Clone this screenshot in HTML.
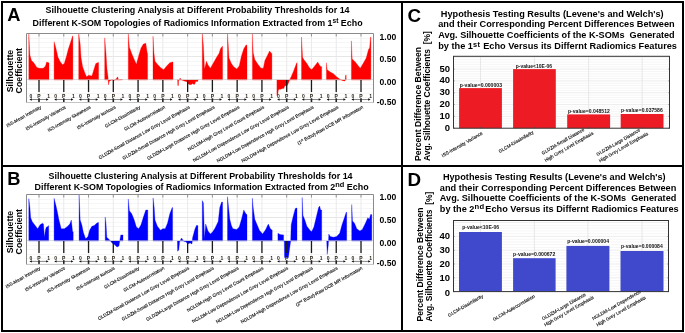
<!DOCTYPE html>
<html><head><meta charset="utf-8"><title>Silhouette Clustering Analysis</title>
<style>
html,body{margin:0;padding:0;background:#fff;width:685px;height:333px;overflow:hidden;}
svg{display:block;will-change:transform;font-family:"Liberation Sans", sans-serif;}
</style></head><body>
<svg width="685" height="333" viewBox="0 0 685 333" font-family='"Liberation Sans", sans-serif'>
<rect x="0" y="0" width="685" height="333" fill="#fff"/>
<text x="7.30" y="20.90" font-size="18.3" font-weight="bold" text-anchor="start" fill="#000">A</text>
<text x="197.60" y="13.40" font-size="8.9" font-weight="bold" text-anchor="middle" fill="#000" textLength="304.00" lengthAdjust="spacingAndGlyphs">Silhouette Clustering Analysis at Different Probability Thresholds for 14</text>
<text x="197.60" y="26.00" font-size="8.9" font-weight="bold" text-anchor="middle" fill="#000" textLength="330.0" lengthAdjust="spacingAndGlyphs">Different K-SOM Topologies of Radiomics Information Extracted from 1<tspan font-size="6.6" dy="-2.6">st</tspan><tspan dy="2.6"> Echo</tspan></text>
<text x="13.20" y="71.00" font-size="8.8" font-weight="bold" text-anchor="middle" fill="#000" transform="rotate(-90 13.20 71.00)">Silhouette</text>
<text x="21.80" y="70.70" font-size="8.8" font-weight="bold" text-anchor="middle" fill="#000" transform="rotate(-90 21.80 70.70)">Coefficient</text>
<rect x="26.5" y="33.5" width="347.0" height="69.0" fill="#fff"/>
<line x1="26.5" y1="97.50" x2="373.5" y2="97.50" stroke="#f6f6f6" stroke-width="1"/>
<line x1="26.5" y1="93.50" x2="373.5" y2="93.50" stroke="#f6f6f6" stroke-width="1"/>
<line x1="26.5" y1="88.50" x2="373.5" y2="88.50" stroke="#f6f6f6" stroke-width="1"/>
<line x1="26.5" y1="84.50" x2="373.5" y2="84.50" stroke="#f6f6f6" stroke-width="1"/>
<line x1="26.5" y1="74.50" x2="373.5" y2="74.50" stroke="#f6f6f6" stroke-width="1"/>
<line x1="26.5" y1="70.50" x2="373.5" y2="70.50" stroke="#f6f6f6" stroke-width="1"/>
<line x1="26.5" y1="65.50" x2="373.5" y2="65.50" stroke="#f6f6f6" stroke-width="1"/>
<line x1="26.5" y1="61.50" x2="373.5" y2="61.50" stroke="#f6f6f6" stroke-width="1"/>
<line x1="26.5" y1="51.50" x2="373.5" y2="51.50" stroke="#f6f6f6" stroke-width="1"/>
<line x1="26.5" y1="47.50" x2="373.5" y2="47.50" stroke="#f6f6f6" stroke-width="1"/>
<line x1="26.5" y1="42.50" x2="373.5" y2="42.50" stroke="#f6f6f6" stroke-width="1"/>
<line x1="26.5" y1="38.50" x2="373.5" y2="38.50" stroke="#f6f6f6" stroke-width="1"/>
<line x1="26.5" y1="56.50" x2="373.5" y2="56.50" stroke="#e6e6e6" stroke-width="1"/>
<line x1="39.00" y1="33.5" x2="39.00" y2="102.5" stroke="#e8e8e8" stroke-width="0.9"/>
<line x1="39.00" y1="33.5" x2="39.00" y2="36.5" stroke="#888" stroke-width="0.9"/>
<line x1="63.77" y1="33.5" x2="63.77" y2="102.5" stroke="#e8e8e8" stroke-width="0.9"/>
<line x1="63.77" y1="33.5" x2="63.77" y2="36.5" stroke="#888" stroke-width="0.9"/>
<line x1="88.54" y1="33.5" x2="88.54" y2="102.5" stroke="#e8e8e8" stroke-width="0.9"/>
<line x1="88.54" y1="33.5" x2="88.54" y2="36.5" stroke="#888" stroke-width="0.9"/>
<line x1="113.31" y1="33.5" x2="113.31" y2="102.5" stroke="#e8e8e8" stroke-width="0.9"/>
<line x1="113.31" y1="33.5" x2="113.31" y2="36.5" stroke="#888" stroke-width="0.9"/>
<line x1="138.08" y1="33.5" x2="138.08" y2="102.5" stroke="#e8e8e8" stroke-width="0.9"/>
<line x1="138.08" y1="33.5" x2="138.08" y2="36.5" stroke="#888" stroke-width="0.9"/>
<line x1="162.85" y1="33.5" x2="162.85" y2="102.5" stroke="#e8e8e8" stroke-width="0.9"/>
<line x1="162.85" y1="33.5" x2="162.85" y2="36.5" stroke="#888" stroke-width="0.9"/>
<line x1="187.62" y1="33.5" x2="187.62" y2="102.5" stroke="#e8e8e8" stroke-width="0.9"/>
<line x1="187.62" y1="33.5" x2="187.62" y2="36.5" stroke="#888" stroke-width="0.9"/>
<line x1="212.39" y1="33.5" x2="212.39" y2="102.5" stroke="#e8e8e8" stroke-width="0.9"/>
<line x1="212.39" y1="33.5" x2="212.39" y2="36.5" stroke="#888" stroke-width="0.9"/>
<line x1="237.16" y1="33.5" x2="237.16" y2="102.5" stroke="#e8e8e8" stroke-width="0.9"/>
<line x1="237.16" y1="33.5" x2="237.16" y2="36.5" stroke="#888" stroke-width="0.9"/>
<line x1="261.93" y1="33.5" x2="261.93" y2="102.5" stroke="#e8e8e8" stroke-width="0.9"/>
<line x1="261.93" y1="33.5" x2="261.93" y2="36.5" stroke="#888" stroke-width="0.9"/>
<line x1="286.70" y1="33.5" x2="286.70" y2="102.5" stroke="#e8e8e8" stroke-width="0.9"/>
<line x1="286.70" y1="33.5" x2="286.70" y2="36.5" stroke="#888" stroke-width="0.9"/>
<line x1="311.47" y1="33.5" x2="311.47" y2="102.5" stroke="#e8e8e8" stroke-width="0.9"/>
<line x1="311.47" y1="33.5" x2="311.47" y2="36.5" stroke="#888" stroke-width="0.9"/>
<line x1="336.24" y1="33.5" x2="336.24" y2="102.5" stroke="#e8e8e8" stroke-width="0.9"/>
<line x1="336.24" y1="33.5" x2="336.24" y2="36.5" stroke="#888" stroke-width="0.9"/>
<line x1="361.01" y1="33.5" x2="361.01" y2="102.5" stroke="#e8e8e8" stroke-width="0.9"/>
<line x1="361.01" y1="33.5" x2="361.01" y2="36.5" stroke="#888" stroke-width="0.9"/>
<path d="M28.80,80.00 L28.80,33.90 L29.90,55.00 L31.50,60.50 L33.80,62.80 L36.90,67.50 L39.30,68.30 L43.20,68.30 L45.50,66.00 L46.60,62.00 L48.60,62.80 L49.00,62.80 L49.00,80.00 Z" fill="#ff0000" stroke="#ff0000" stroke-width="0.3"/>
<path d="M54.10,80.00 L54.10,41.70 L55.70,47.20 L58.00,57.30 L60.40,62.00 L62.70,64.70 L64.30,63.60 L66.60,55.80 L68.20,49.50 L70.50,42.50 L72.60,35.90 L72.90,35.90 L72.90,80.00 Z" fill="#ff0000" stroke="#ff0000" stroke-width="0.3"/>
<path d="M78.70,80.00 L78.70,33.40 L80.20,44.00 L81.00,57.30 L82.60,66.70 L84.90,72.90 L86.50,76.80 L88.80,75.20 L91.90,76.00 L94.30,68.20 L95.80,63.50 L98.20,62.50 L98.60,62.50 L98.60,80.00 Z" fill="#ff0000" stroke="#ff0000" stroke-width="0.3"/>
<path d="M104.70,80.00 L104.70,37.80 L106.00,53.40 L107.00,69.00 L108.00,76.80 L108.50,85.00 L109.50,80.70 L110.70,80.50 L112.00,79.50 L114.00,80.50 L116.00,79.00 L117.70,76.80 L118.50,80.00 L120.00,79.50 L122.40,79.50 L122.40,80.00 Z" fill="#ff0000" stroke="#ff0000" stroke-width="0.3"/>
<path d="M128.30,80.00 L128.30,33.40 L129.40,47.20 L131.70,53.40 L134.00,58.90 L136.40,64.30 L138.70,55.70 L141.00,48.00 L143.40,44.00 L145.80,43.30 L147.30,53.40 L147.60,53.40 L147.60,80.00 Z" fill="#ff0000" stroke="#ff0000" stroke-width="0.3"/>
<path d="M153.00,80.00 L153.00,36.20 L153.90,52.60 L155.00,61.20 L157.40,64.30 L160.50,67.40 L163.60,69.80 L166.70,65.90 L169.80,62.80 L172.60,62.00 L173.00,62.00 L173.00,80.00 Z" fill="#ff0000" stroke="#ff0000" stroke-width="0.3"/>
<path d="M177.60,80.00 L177.60,79.50 L177.80,85.60 L178.40,85.60 L178.60,80.50 L179.60,79.00 L180.20,78.00 L181.00,79.60 L183.00,80.50 L185.00,81.30 L186.90,81.70 L188.40,84.00 L190.00,84.70 L191.40,84.50 L192.50,83.50 L194.00,84.40 L195.00,83.80 L195.60,81.40 L197.80,81.40 L198.00,79.50 L198.00,80.00 Z" fill="#ff0000" stroke="#ff0000" stroke-width="0.3"/>
<path d="M202.30,80.00 L202.30,33.10 L203.40,45.60 L204.50,69.00 L206.50,61.20 L208.00,65.00 L210.40,68.20 L213.50,62.80 L216.60,57.30 L219.00,53.40 L220.50,48.70 L222.10,46.40 L222.60,46.40 L222.60,80.00 Z" fill="#ff0000" stroke="#ff0000" stroke-width="0.3"/>
<path d="M227.50,80.00 L227.50,33.40 L228.20,44.00 L229.00,58.00 L231.40,63.50 L233.70,66.70 L236.80,69.00 L239.20,65.90 L241.50,55.70 L243.80,48.70 L246.20,44.80 L247.00,45.60 L247.00,80.00 Z" fill="#ff0000" stroke="#ff0000" stroke-width="0.3"/>
<path d="M252.40,80.00 L252.40,33.90 L253.20,52.60 L254.80,59.60 L257.90,64.30 L261.00,68.20 L263.30,68.20 L264.90,60.40 L268.00,54.20 L269.60,51.00 L271.60,53.40 L271.90,53.40 L271.90,80.00 Z" fill="#ff0000" stroke="#ff0000" stroke-width="0.3"/>
<path d="M276.90,80.00 L276.90,79.50 L276.90,95.50 L277.70,94.70 L278.40,90.10 L279.20,89.30 L280.70,89.30 L282.30,88.60 L283.80,88.60 L284.60,86.30 L286.00,85.50 L287.20,85.50 L288.40,83.20 L289.20,80.90 L289.80,79.50 L291.50,76.00 L293.80,70.50 L296.50,63.30 L297.10,62.60 L297.10,80.00 Z" fill="#ff0000" stroke="#ff0000" stroke-width="0.3"/>
<path d="M301.50,80.00 L301.50,37.00 L302.60,57.30 L303.80,59.60 L306.90,63.50 L309.30,67.40 L311.60,69.80 L314.70,65.90 L317.80,62.00 L319.40,65.00 L321.00,66.70 L321.70,66.70 L321.70,80.00 Z" fill="#ff0000" stroke="#ff0000" stroke-width="0.3"/>
<path d="M326.40,80.00 L326.40,62.80 L327.20,69.80 L330.30,72.10 L333.40,73.70 L336.60,76.80 L339.70,79.10 L342.80,80.70 L345.00,81.00 L345.60,75.20 L346.20,75.20 L346.20,80.00 Z" fill="#ff0000" stroke="#ff0000" stroke-width="0.3"/>
<path d="M351.40,80.00 L351.40,40.90 L352.20,58.90 L355.30,62.00 L358.40,65.90 L360.30,68.20 L363.10,63.50 L366.20,58.00 L368.50,49.50 L369.60,47.90 L370.60,37.00 L370.90,37.00 L370.90,80.00 Z" fill="#ff0000" stroke="#ff0000" stroke-width="0.3"/>
<line x1="26.5" y1="79.50" x2="373.5" y2="79.50" stroke="#c8c8c8" stroke-width="0.6"/>
<line x1="39.00" y1="80.00" x2="39.00" y2="92.00" stroke="#1a1a1a" stroke-width="1.3"/>
<text x="30.80" y="98.20" font-size="5.0" font-weight="bold" text-anchor="middle" fill="#2a2418">0</text>
<text x="39.00" y="98.20" font-size="5.0" font-weight="bold" text-anchor="middle" fill="#2a2418">P</text>
<text x="48.60" y="98.20" font-size="5.0" font-weight="bold" text-anchor="middle" fill="#2a2418">1</text>
<line x1="30.50" y1="99.50" x2="47.50" y2="99.50" stroke="#666" stroke-width="0.8"/>
<path d="M29.40,99.50 L31.80,98.30 L31.80,100.70 Z" fill="#111"/>
<path d="M48.60,99.50 L46.20,98.30 L46.20,100.70 Z" fill="#111"/>
<line x1="39.00" y1="98.30" x2="39.00" y2="102.90" stroke="#222" stroke-width="1.6"/>
<line x1="63.77" y1="80.00" x2="63.77" y2="92.00" stroke="#1a1a1a" stroke-width="1.3"/>
<text x="55.57" y="98.20" font-size="5.0" font-weight="bold" text-anchor="middle" fill="#2a2418">0</text>
<text x="63.77" y="98.20" font-size="5.0" font-weight="bold" text-anchor="middle" fill="#2a2418">P</text>
<text x="73.37" y="98.20" font-size="5.0" font-weight="bold" text-anchor="middle" fill="#2a2418">1</text>
<line x1="55.27" y1="99.50" x2="72.27" y2="99.50" stroke="#666" stroke-width="0.8"/>
<path d="M54.17,99.50 L56.57,98.30 L56.57,100.70 Z" fill="#111"/>
<path d="M73.37,99.50 L70.97,98.30 L70.97,100.70 Z" fill="#111"/>
<line x1="63.77" y1="98.30" x2="63.77" y2="102.90" stroke="#222" stroke-width="1.6"/>
<line x1="88.54" y1="80.00" x2="88.54" y2="92.00" stroke="#1a1a1a" stroke-width="1.3"/>
<text x="80.34" y="98.20" font-size="5.0" font-weight="bold" text-anchor="middle" fill="#2a2418">0</text>
<text x="88.54" y="98.20" font-size="5.0" font-weight="bold" text-anchor="middle" fill="#2a2418">P</text>
<text x="98.14" y="98.20" font-size="5.0" font-weight="bold" text-anchor="middle" fill="#2a2418">1</text>
<line x1="80.04" y1="99.50" x2="97.04" y2="99.50" stroke="#666" stroke-width="0.8"/>
<path d="M78.94,99.50 L81.34,98.30 L81.34,100.70 Z" fill="#111"/>
<path d="M98.14,99.50 L95.74,98.30 L95.74,100.70 Z" fill="#111"/>
<line x1="88.54" y1="98.30" x2="88.54" y2="102.90" stroke="#222" stroke-width="1.6"/>
<line x1="113.31" y1="80.00" x2="113.31" y2="92.00" stroke="#1a1a1a" stroke-width="1.3"/>
<text x="105.11" y="98.20" font-size="5.0" font-weight="bold" text-anchor="middle" fill="#2a2418">0</text>
<text x="113.31" y="98.20" font-size="5.0" font-weight="bold" text-anchor="middle" fill="#2a2418">P</text>
<text x="122.91" y="98.20" font-size="5.0" font-weight="bold" text-anchor="middle" fill="#2a2418">1</text>
<line x1="104.81" y1="99.50" x2="121.81" y2="99.50" stroke="#666" stroke-width="0.8"/>
<path d="M103.71,99.50 L106.11,98.30 L106.11,100.70 Z" fill="#111"/>
<path d="M122.91,99.50 L120.51,98.30 L120.51,100.70 Z" fill="#111"/>
<line x1="113.31" y1="98.30" x2="113.31" y2="102.90" stroke="#222" stroke-width="1.6"/>
<line x1="138.08" y1="80.00" x2="138.08" y2="92.00" stroke="#1a1a1a" stroke-width="1.3"/>
<text x="129.88" y="98.20" font-size="5.0" font-weight="bold" text-anchor="middle" fill="#2a2418">0</text>
<text x="138.08" y="98.20" font-size="5.0" font-weight="bold" text-anchor="middle" fill="#2a2418">P</text>
<text x="147.68" y="98.20" font-size="5.0" font-weight="bold" text-anchor="middle" fill="#2a2418">1</text>
<line x1="129.58" y1="99.50" x2="146.58" y2="99.50" stroke="#666" stroke-width="0.8"/>
<path d="M128.48,99.50 L130.88,98.30 L130.88,100.70 Z" fill="#111"/>
<path d="M147.68,99.50 L145.28,98.30 L145.28,100.70 Z" fill="#111"/>
<line x1="138.08" y1="98.30" x2="138.08" y2="102.90" stroke="#222" stroke-width="1.6"/>
<line x1="162.85" y1="80.00" x2="162.85" y2="92.00" stroke="#1a1a1a" stroke-width="1.3"/>
<text x="154.65" y="98.20" font-size="5.0" font-weight="bold" text-anchor="middle" fill="#2a2418">0</text>
<text x="162.85" y="98.20" font-size="5.0" font-weight="bold" text-anchor="middle" fill="#2a2418">P</text>
<text x="172.45" y="98.20" font-size="5.0" font-weight="bold" text-anchor="middle" fill="#2a2418">1</text>
<line x1="154.35" y1="99.50" x2="171.35" y2="99.50" stroke="#666" stroke-width="0.8"/>
<path d="M153.25,99.50 L155.65,98.30 L155.65,100.70 Z" fill="#111"/>
<path d="M172.45,99.50 L170.05,98.30 L170.05,100.70 Z" fill="#111"/>
<line x1="162.85" y1="98.30" x2="162.85" y2="102.90" stroke="#222" stroke-width="1.6"/>
<line x1="187.62" y1="80.00" x2="187.62" y2="92.00" stroke="#1a1a1a" stroke-width="1.3"/>
<text x="179.42" y="98.20" font-size="5.0" font-weight="bold" text-anchor="middle" fill="#2a2418">0</text>
<text x="187.62" y="98.20" font-size="5.0" font-weight="bold" text-anchor="middle" fill="#2a2418">P</text>
<text x="197.22" y="98.20" font-size="5.0" font-weight="bold" text-anchor="middle" fill="#2a2418">1</text>
<line x1="179.12" y1="99.50" x2="196.12" y2="99.50" stroke="#666" stroke-width="0.8"/>
<path d="M178.02,99.50 L180.42,98.30 L180.42,100.70 Z" fill="#111"/>
<path d="M197.22,99.50 L194.82,98.30 L194.82,100.70 Z" fill="#111"/>
<line x1="187.62" y1="98.30" x2="187.62" y2="102.90" stroke="#222" stroke-width="1.6"/>
<line x1="212.39" y1="80.00" x2="212.39" y2="92.00" stroke="#1a1a1a" stroke-width="1.3"/>
<text x="204.19" y="98.20" font-size="5.0" font-weight="bold" text-anchor="middle" fill="#2a2418">0</text>
<text x="212.39" y="98.20" font-size="5.0" font-weight="bold" text-anchor="middle" fill="#2a2418">P</text>
<text x="221.99" y="98.20" font-size="5.0" font-weight="bold" text-anchor="middle" fill="#2a2418">1</text>
<line x1="203.89" y1="99.50" x2="220.89" y2="99.50" stroke="#666" stroke-width="0.8"/>
<path d="M202.79,99.50 L205.19,98.30 L205.19,100.70 Z" fill="#111"/>
<path d="M221.99,99.50 L219.59,98.30 L219.59,100.70 Z" fill="#111"/>
<line x1="212.39" y1="98.30" x2="212.39" y2="102.90" stroke="#222" stroke-width="1.6"/>
<line x1="237.16" y1="80.00" x2="237.16" y2="92.00" stroke="#1a1a1a" stroke-width="1.3"/>
<text x="228.96" y="98.20" font-size="5.0" font-weight="bold" text-anchor="middle" fill="#2a2418">0</text>
<text x="237.16" y="98.20" font-size="5.0" font-weight="bold" text-anchor="middle" fill="#2a2418">P</text>
<text x="246.76" y="98.20" font-size="5.0" font-weight="bold" text-anchor="middle" fill="#2a2418">1</text>
<line x1="228.66" y1="99.50" x2="245.66" y2="99.50" stroke="#666" stroke-width="0.8"/>
<path d="M227.56,99.50 L229.96,98.30 L229.96,100.70 Z" fill="#111"/>
<path d="M246.76,99.50 L244.36,98.30 L244.36,100.70 Z" fill="#111"/>
<line x1="237.16" y1="98.30" x2="237.16" y2="102.90" stroke="#222" stroke-width="1.6"/>
<line x1="261.93" y1="80.00" x2="261.93" y2="92.00" stroke="#1a1a1a" stroke-width="1.3"/>
<text x="253.73" y="98.20" font-size="5.0" font-weight="bold" text-anchor="middle" fill="#2a2418">0</text>
<text x="261.93" y="98.20" font-size="5.0" font-weight="bold" text-anchor="middle" fill="#2a2418">P</text>
<text x="271.53" y="98.20" font-size="5.0" font-weight="bold" text-anchor="middle" fill="#2a2418">1</text>
<line x1="253.43" y1="99.50" x2="270.43" y2="99.50" stroke="#666" stroke-width="0.8"/>
<path d="M252.33,99.50 L254.73,98.30 L254.73,100.70 Z" fill="#111"/>
<path d="M271.53,99.50 L269.13,98.30 L269.13,100.70 Z" fill="#111"/>
<line x1="261.93" y1="98.30" x2="261.93" y2="102.90" stroke="#222" stroke-width="1.6"/>
<line x1="286.70" y1="80.00" x2="286.70" y2="92.00" stroke="#1a1a1a" stroke-width="1.3"/>
<text x="278.50" y="98.20" font-size="5.0" font-weight="bold" text-anchor="middle" fill="#2a2418">0</text>
<text x="286.70" y="98.20" font-size="5.0" font-weight="bold" text-anchor="middle" fill="#2a2418">P</text>
<text x="296.30" y="98.20" font-size="5.0" font-weight="bold" text-anchor="middle" fill="#2a2418">1</text>
<line x1="278.20" y1="99.50" x2="295.20" y2="99.50" stroke="#666" stroke-width="0.8"/>
<path d="M277.10,99.50 L279.50,98.30 L279.50,100.70 Z" fill="#111"/>
<path d="M296.30,99.50 L293.90,98.30 L293.90,100.70 Z" fill="#111"/>
<line x1="286.70" y1="98.30" x2="286.70" y2="102.90" stroke="#222" stroke-width="1.6"/>
<line x1="311.47" y1="80.00" x2="311.47" y2="92.00" stroke="#1a1a1a" stroke-width="1.3"/>
<text x="303.27" y="98.20" font-size="5.0" font-weight="bold" text-anchor="middle" fill="#2a2418">0</text>
<text x="311.47" y="98.20" font-size="5.0" font-weight="bold" text-anchor="middle" fill="#2a2418">P</text>
<text x="321.07" y="98.20" font-size="5.0" font-weight="bold" text-anchor="middle" fill="#2a2418">1</text>
<line x1="302.97" y1="99.50" x2="319.97" y2="99.50" stroke="#666" stroke-width="0.8"/>
<path d="M301.87,99.50 L304.27,98.30 L304.27,100.70 Z" fill="#111"/>
<path d="M321.07,99.50 L318.67,98.30 L318.67,100.70 Z" fill="#111"/>
<line x1="311.47" y1="98.30" x2="311.47" y2="102.90" stroke="#222" stroke-width="1.6"/>
<line x1="336.24" y1="80.00" x2="336.24" y2="92.00" stroke="#1a1a1a" stroke-width="1.3"/>
<text x="328.04" y="98.20" font-size="5.0" font-weight="bold" text-anchor="middle" fill="#2a2418">0</text>
<text x="336.24" y="98.20" font-size="5.0" font-weight="bold" text-anchor="middle" fill="#2a2418">P</text>
<text x="345.84" y="98.20" font-size="5.0" font-weight="bold" text-anchor="middle" fill="#2a2418">1</text>
<line x1="327.74" y1="99.50" x2="344.74" y2="99.50" stroke="#666" stroke-width="0.8"/>
<path d="M326.64,99.50 L329.04,98.30 L329.04,100.70 Z" fill="#111"/>
<path d="M345.84,99.50 L343.44,98.30 L343.44,100.70 Z" fill="#111"/>
<line x1="336.24" y1="98.30" x2="336.24" y2="102.90" stroke="#222" stroke-width="1.6"/>
<line x1="361.01" y1="80.00" x2="361.01" y2="92.00" stroke="#1a1a1a" stroke-width="1.3"/>
<text x="352.81" y="98.20" font-size="5.0" font-weight="bold" text-anchor="middle" fill="#2a2418">0</text>
<text x="361.01" y="98.20" font-size="5.0" font-weight="bold" text-anchor="middle" fill="#2a2418">P</text>
<text x="370.61" y="98.20" font-size="5.0" font-weight="bold" text-anchor="middle" fill="#2a2418">1</text>
<line x1="352.51" y1="99.50" x2="369.51" y2="99.50" stroke="#666" stroke-width="0.8"/>
<path d="M351.41,99.50 L353.81,98.30 L353.81,100.70 Z" fill="#111"/>
<path d="M370.61,99.50 L368.21,98.30 L368.21,100.70 Z" fill="#111"/>
<line x1="361.01" y1="98.30" x2="361.01" y2="102.90" stroke="#222" stroke-width="1.6"/>
<path d="M26.5,102.5 L373.5,102.5" stroke="#c4c4c4" stroke-width="1" fill="none"/>
<path d="M26.5,102.5 L26.5,33.5 L373.5,33.5 L373.5,102.5" stroke="#8a8a8a" stroke-width="1" fill="none"/>
<text x="396.30" y="39.70" font-size="8.6" font-weight="bold" text-anchor="end" fill="#000">1.00</text>
<text x="396.30" y="62.10" font-size="8.6" font-weight="bold" text-anchor="end" fill="#000">0.50</text>
<text x="396.30" y="85.40" font-size="8.6" font-weight="bold" text-anchor="end" fill="#000">0.00</text>
<text x="396.30" y="105.30" font-size="8.6" font-weight="bold" text-anchor="end" fill="#000">-0.50</text>
<text x="41.60" y="108.10" font-size="4.65" text-anchor="end" fill="#111" transform="rotate(-29.5 41.60 108.10)" stroke="#111" stroke-width="0.14">ISS-Mean Intensity</text>
<text x="66.37" y="108.10" font-size="4.65" text-anchor="end" fill="#111" transform="rotate(-29.5 66.37 108.10)" stroke="#111" stroke-width="0.14">ISS-Intensity Variance</text>
<text x="91.14" y="108.10" font-size="4.65" text-anchor="end" fill="#111" transform="rotate(-29.5 91.14 108.10)" stroke="#111" stroke-width="0.14">ISS-Intensity Skewness</text>
<text x="115.91" y="108.10" font-size="4.65" text-anchor="end" fill="#111" transform="rotate(-29.5 115.91 108.10)" stroke="#111" stroke-width="0.14">ISS-Intensity kurtosis</text>
<text x="140.68" y="108.10" font-size="4.65" text-anchor="end" fill="#111" transform="rotate(-29.5 140.68 108.10)" stroke="#111" stroke-width="0.14">GLCM-Dissimilarity</text>
<text x="165.45" y="108.10" font-size="4.65" text-anchor="end" fill="#111" transform="rotate(-29.5 165.45 108.10)" stroke="#111" stroke-width="0.14">GLCM-Autocorrelation</text>
<text x="190.22" y="108.10" font-size="4.65" text-anchor="end" fill="#111" transform="rotate(-29.5 190.22 108.10)" stroke="#111" stroke-width="0.14">GLDZM-Small Distance Low Grey Level Emphasis</text>
<text x="214.99" y="108.10" font-size="4.65" text-anchor="end" fill="#111" transform="rotate(-29.5 214.99 108.10)" stroke="#111" stroke-width="0.14">GLDZM-Small Distance High Grey Level Emphasis</text>
<text x="239.76" y="108.10" font-size="4.65" text-anchor="end" fill="#111" transform="rotate(-29.5 239.76 108.10)" stroke="#111" stroke-width="0.14">GLDZM-Large Distance High Grey Level Emphasis</text>
<text x="264.53" y="108.10" font-size="4.65" text-anchor="end" fill="#111" transform="rotate(-29.5 264.53 108.10)" stroke="#111" stroke-width="0.14">NGLDM-High Grey Level Count Emphasis</text>
<text x="289.30" y="108.10" font-size="4.65" text-anchor="end" fill="#111" transform="rotate(-29.5 289.30 108.10)" stroke="#111" stroke-width="0.14">NGLDM-Low Dependence Low Grey Level Emphasis</text>
<text x="314.07" y="108.10" font-size="4.65" text-anchor="end" fill="#111" transform="rotate(-29.5 314.07 108.10)" stroke="#111" stroke-width="0.14">NGLDM-Low Dependence High Grey Level Emphasis</text>
<text x="338.84" y="108.10" font-size="4.65" text-anchor="end" fill="#111" transform="rotate(-29.5 338.84 108.10)" stroke="#111" stroke-width="0.14">NGLDM-High Dependence Low Grey Level Emphasis</text>
<text x="363.61" y="108.10" font-size="4.65" text-anchor="end" fill="#111" transform="rotate(-29.5 363.61 108.10)" stroke="#111" stroke-width="0.14">(1<tspan font-size="3" dy="-1.6">st</tspan><tspan dy="1.6"> Echo)-Raw DCE MR Information</tspan></text>
<text x="7.30" y="184.90" font-size="18.3" font-weight="bold" text-anchor="start" fill="#000">B</text>
<text x="200.60" y="178.80" font-size="8.9" font-weight="bold" text-anchor="middle" fill="#000" textLength="304.00" lengthAdjust="spacingAndGlyphs">Silhouette Clustering Analysis at Different Probability Thresholds for 14</text>
<text x="201.60" y="189.90" font-size="8.9" font-weight="bold" text-anchor="middle" fill="#000" textLength="334.0" lengthAdjust="spacingAndGlyphs">Different K-SOM Topologies of Radiomics Information Extracted from 2<tspan font-size="7.4" dy="-2.6">nd</tspan><tspan dy="2.6"> Echo</tspan></text>
<text x="13.20" y="232.00" font-size="8.8" font-weight="bold" text-anchor="middle" fill="#000" transform="rotate(-90 13.20 232.00)">Silhouette</text>
<text x="21.80" y="231.70" font-size="8.8" font-weight="bold" text-anchor="middle" fill="#000" transform="rotate(-90 21.80 231.70)">Coefficient</text>
<rect x="26.5" y="194.5" width="347.0" height="69.89999999999998" fill="#fff"/>
<line x1="26.5" y1="258.50" x2="373.5" y2="258.50" stroke="#f6f6f6" stroke-width="1"/>
<line x1="26.5" y1="254.50" x2="373.5" y2="254.50" stroke="#f6f6f6" stroke-width="1"/>
<line x1="26.5" y1="249.50" x2="373.5" y2="249.50" stroke="#f6f6f6" stroke-width="1"/>
<line x1="26.5" y1="245.50" x2="373.5" y2="245.50" stroke="#f6f6f6" stroke-width="1"/>
<line x1="26.5" y1="235.50" x2="373.5" y2="235.50" stroke="#f6f6f6" stroke-width="1"/>
<line x1="26.5" y1="231.50" x2="373.5" y2="231.50" stroke="#f6f6f6" stroke-width="1"/>
<line x1="26.5" y1="226.50" x2="373.5" y2="226.50" stroke="#f6f6f6" stroke-width="1"/>
<line x1="26.5" y1="222.50" x2="373.5" y2="222.50" stroke="#f6f6f6" stroke-width="1"/>
<line x1="26.5" y1="212.50" x2="373.5" y2="212.50" stroke="#f6f6f6" stroke-width="1"/>
<line x1="26.5" y1="208.50" x2="373.5" y2="208.50" stroke="#f6f6f6" stroke-width="1"/>
<line x1="26.5" y1="203.50" x2="373.5" y2="203.50" stroke="#f6f6f6" stroke-width="1"/>
<line x1="26.5" y1="199.50" x2="373.5" y2="199.50" stroke="#f6f6f6" stroke-width="1"/>
<line x1="26.5" y1="217.50" x2="373.5" y2="217.50" stroke="#e6e6e6" stroke-width="1"/>
<line x1="39.00" y1="194.5" x2="39.00" y2="264.4" stroke="#e8e8e8" stroke-width="0.9"/>
<line x1="39.00" y1="194.5" x2="39.00" y2="197.5" stroke="#888" stroke-width="0.9"/>
<line x1="63.77" y1="194.5" x2="63.77" y2="264.4" stroke="#e8e8e8" stroke-width="0.9"/>
<line x1="63.77" y1="194.5" x2="63.77" y2="197.5" stroke="#888" stroke-width="0.9"/>
<line x1="88.54" y1="194.5" x2="88.54" y2="264.4" stroke="#e8e8e8" stroke-width="0.9"/>
<line x1="88.54" y1="194.5" x2="88.54" y2="197.5" stroke="#888" stroke-width="0.9"/>
<line x1="113.31" y1="194.5" x2="113.31" y2="264.4" stroke="#e8e8e8" stroke-width="0.9"/>
<line x1="113.31" y1="194.5" x2="113.31" y2="197.5" stroke="#888" stroke-width="0.9"/>
<line x1="138.08" y1="194.5" x2="138.08" y2="264.4" stroke="#e8e8e8" stroke-width="0.9"/>
<line x1="138.08" y1="194.5" x2="138.08" y2="197.5" stroke="#888" stroke-width="0.9"/>
<line x1="162.85" y1="194.5" x2="162.85" y2="264.4" stroke="#e8e8e8" stroke-width="0.9"/>
<line x1="162.85" y1="194.5" x2="162.85" y2="197.5" stroke="#888" stroke-width="0.9"/>
<line x1="187.62" y1="194.5" x2="187.62" y2="264.4" stroke="#e8e8e8" stroke-width="0.9"/>
<line x1="187.62" y1="194.5" x2="187.62" y2="197.5" stroke="#888" stroke-width="0.9"/>
<line x1="212.39" y1="194.5" x2="212.39" y2="264.4" stroke="#e8e8e8" stroke-width="0.9"/>
<line x1="212.39" y1="194.5" x2="212.39" y2="197.5" stroke="#888" stroke-width="0.9"/>
<line x1="237.16" y1="194.5" x2="237.16" y2="264.4" stroke="#e8e8e8" stroke-width="0.9"/>
<line x1="237.16" y1="194.5" x2="237.16" y2="197.5" stroke="#888" stroke-width="0.9"/>
<line x1="261.93" y1="194.5" x2="261.93" y2="264.4" stroke="#e8e8e8" stroke-width="0.9"/>
<line x1="261.93" y1="194.5" x2="261.93" y2="197.5" stroke="#888" stroke-width="0.9"/>
<line x1="286.70" y1="194.5" x2="286.70" y2="264.4" stroke="#e8e8e8" stroke-width="0.9"/>
<line x1="286.70" y1="194.5" x2="286.70" y2="197.5" stroke="#888" stroke-width="0.9"/>
<line x1="311.47" y1="194.5" x2="311.47" y2="264.4" stroke="#e8e8e8" stroke-width="0.9"/>
<line x1="311.47" y1="194.5" x2="311.47" y2="197.5" stroke="#888" stroke-width="0.9"/>
<line x1="336.24" y1="194.5" x2="336.24" y2="264.4" stroke="#e8e8e8" stroke-width="0.9"/>
<line x1="336.24" y1="194.5" x2="336.24" y2="197.5" stroke="#888" stroke-width="0.9"/>
<line x1="361.01" y1="194.5" x2="361.01" y2="264.4" stroke="#e8e8e8" stroke-width="0.9"/>
<line x1="361.01" y1="194.5" x2="361.01" y2="197.5" stroke="#888" stroke-width="0.9"/>
<path d="M28.80,241.00 L28.80,198.60 L29.90,207.60 L30.70,217.80 L32.30,221.70 L34.60,224.80 L37.70,228.70 L40.10,224.80 L42.40,223.30 L43.50,224.00 L44.40,237.30 L45.50,229.50 L46.30,227.20 L47.90,226.40 L48.70,225.50 L48.70,241.00 Z" fill="#0000ff" stroke="#0000ff" stroke-width="0.3"/>
<path d="M54.10,241.00 L54.10,198.30 L55.70,204.50 L57.30,211.50 L58.80,219.30 L61.20,228.70 L64.30,228.70 L67.40,226.40 L69.80,224.00 L71.30,220.10 L72.60,231.80 L73.20,231.80 L73.20,241.00 Z" fill="#0000ff" stroke="#0000ff" stroke-width="0.3"/>
<path d="M79.10,241.00 L79.10,194.80 L80.20,220.00 L81.80,224.80 L83.40,232.60 L85.70,238.80 L88.00,236.50 L89.60,230.20 L91.90,226.30 L94.30,225.50 L96.60,223.20 L98.20,222.40 L98.50,222.40 L98.50,241.00 Z" fill="#0000ff" stroke="#0000ff" stroke-width="0.3"/>
<path d="M105.20,241.00 L105.20,217.00 L106.00,223.20 L106.80,237.20 L108.30,238.80 L110.70,241.00 L112.00,243.00 L115.00,245.00 L117.00,247.00 L119.00,246.00 L119.70,241.00 L120.80,234.90 L122.70,234.90 L123.00,234.90 L123.00,241.00 Z" fill="#0000ff" stroke="#0000ff" stroke-width="0.3"/>
<path d="M128.30,241.00 L128.30,199.00 L129.40,210.70 L131.70,213.80 L134.00,219.30 L136.40,227.10 L138.70,228.70 L141.00,224.80 L143.40,217.00 L145.80,210.00 L147.30,210.00 L147.80,210.00 L147.80,241.00 Z" fill="#0000ff" stroke="#0000ff" stroke-width="0.3"/>
<path d="M153.10,241.00 L153.10,197.90 L154.20,207.60 L155.00,220.10 L157.40,226.30 L160.50,230.20 L162.80,228.70 L165.20,228.70 L167.50,223.20 L169.80,213.80 L172.20,207.60 L172.60,207.60 L172.60,241.00 Z" fill="#0000ff" stroke="#0000ff" stroke-width="0.3"/>
<path d="M177.40,241.00 L177.40,240.80 L177.60,251.30 L178.80,249.90 L179.60,241.80 L181.50,238.00 L183.90,241.20 L186.00,241.80 L187.60,244.00 L190.10,243.00 L192.00,244.00 L192.50,238.00 L194.80,229.40 L196.40,225.50 L197.90,225.50 L197.90,241.00 Z" fill="#0000ff" stroke="#0000ff" stroke-width="0.3"/>
<path d="M202.30,241.00 L202.30,200.60 L203.40,202.90 L204.50,238.80 L205.70,224.00 L208.00,231.00 L210.40,234.10 L212.70,231.80 L215.10,227.90 L218.20,221.60 L219.80,207.60 L221.60,202.10 L222.60,202.10 L222.60,241.00 Z" fill="#0000ff" stroke="#0000ff" stroke-width="0.3"/>
<path d="M227.50,241.00 L227.50,196.70 L228.60,207.60 L229.80,219.30 L231.40,225.50 L232.90,228.70 L236.80,229.40 L239.20,227.10 L241.50,219.30 L243.80,209.90 L245.40,213.00 L246.60,214.60 L247.00,214.60 L247.00,241.00 Z" fill="#0000ff" stroke="#0000ff" stroke-width="0.3"/>
<path d="M252.40,241.00 L252.40,198.20 L253.20,207.60 L254.80,219.30 L257.10,224.80 L259.40,230.20 L262.60,234.10 L265.70,229.40 L268.30,224.00 L270.40,228.70 L271.90,230.00 L272.20,230.00 L272.20,241.00 Z" fill="#0000ff" stroke="#0000ff" stroke-width="0.3"/>
<path d="M277.90,241.00 L277.90,240.80 L277.90,233.30 L280.00,234.50 L283.60,234.90 L283.60,240.80 L284.30,240.80 L284.50,257.50 L288.40,257.50 L290.70,240.80 L291.20,224.80 L293.00,217.00 L295.30,208.40 L296.60,208.00 L297.00,208.00 L297.00,241.00 Z" fill="#0000ff" stroke="#0000ff" stroke-width="0.3"/>
<path d="M302.20,241.00 L302.20,197.50 L303.00,215.40 L304.60,219.30 L306.90,226.30 L310.00,230.20 L311.60,231.80 L313.90,227.10 L316.30,217.00 L318.60,207.60 L319.70,206.00 L320.60,210.00 L321.40,210.00 L321.70,210.00 L321.70,241.00 Z" fill="#0000ff" stroke="#0000ff" stroke-width="0.3"/>
<path d="M326.70,241.00 L326.70,240.80 L327.20,254.40 L328.30,245.00 L328.80,234.10 L330.30,236.50 L333.40,237.20 L336.60,236.50 L339.70,233.30 L342.00,224.80 L344.40,217.70 L346.20,212.30 L346.70,212.30 L346.70,241.00 Z" fill="#0000ff" stroke="#0000ff" stroke-width="0.3"/>
<path d="M351.70,241.00 L351.70,204.50 L352.50,220.90 L354.50,223.20 L356.80,228.70 L359.90,231.00 L362.30,229.40 L365.40,223.20 L367.80,217.70 L369.30,219.30 L370.60,214.60 L371.70,214.60 L371.80,214.60 L371.80,241.00 Z" fill="#0000ff" stroke="#0000ff" stroke-width="0.3"/>
<line x1="26.5" y1="240.50" x2="373.5" y2="240.50" stroke="#c8c8c8" stroke-width="0.6"/>
<line x1="39.00" y1="241.00" x2="39.00" y2="253.00" stroke="#1a1a1a" stroke-width="1.3"/>
<text x="30.80" y="260.10" font-size="5.0" font-weight="bold" text-anchor="middle" fill="#2a2418">0</text>
<text x="39.00" y="260.10" font-size="5.0" font-weight="bold" text-anchor="middle" fill="#2a2418">P</text>
<text x="48.60" y="260.10" font-size="5.0" font-weight="bold" text-anchor="middle" fill="#2a2418">1</text>
<line x1="30.50" y1="261.40" x2="47.50" y2="261.40" stroke="#666" stroke-width="0.8"/>
<path d="M29.40,261.40 L31.80,260.20 L31.80,262.60 Z" fill="#111"/>
<path d="M48.60,261.40 L46.20,260.20 L46.20,262.60 Z" fill="#111"/>
<line x1="39.00" y1="260.20" x2="39.00" y2="264.80" stroke="#222" stroke-width="1.6"/>
<line x1="63.77" y1="241.00" x2="63.77" y2="253.00" stroke="#1a1a1a" stroke-width="1.3"/>
<text x="55.57" y="260.10" font-size="5.0" font-weight="bold" text-anchor="middle" fill="#2a2418">0</text>
<text x="63.77" y="260.10" font-size="5.0" font-weight="bold" text-anchor="middle" fill="#2a2418">P</text>
<text x="73.37" y="260.10" font-size="5.0" font-weight="bold" text-anchor="middle" fill="#2a2418">1</text>
<line x1="55.27" y1="261.40" x2="72.27" y2="261.40" stroke="#666" stroke-width="0.8"/>
<path d="M54.17,261.40 L56.57,260.20 L56.57,262.60 Z" fill="#111"/>
<path d="M73.37,261.40 L70.97,260.20 L70.97,262.60 Z" fill="#111"/>
<line x1="63.77" y1="260.20" x2="63.77" y2="264.80" stroke="#222" stroke-width="1.6"/>
<line x1="88.54" y1="241.00" x2="88.54" y2="253.00" stroke="#1a1a1a" stroke-width="1.3"/>
<text x="80.34" y="260.10" font-size="5.0" font-weight="bold" text-anchor="middle" fill="#2a2418">0</text>
<text x="88.54" y="260.10" font-size="5.0" font-weight="bold" text-anchor="middle" fill="#2a2418">P</text>
<text x="98.14" y="260.10" font-size="5.0" font-weight="bold" text-anchor="middle" fill="#2a2418">1</text>
<line x1="80.04" y1="261.40" x2="97.04" y2="261.40" stroke="#666" stroke-width="0.8"/>
<path d="M78.94,261.40 L81.34,260.20 L81.34,262.60 Z" fill="#111"/>
<path d="M98.14,261.40 L95.74,260.20 L95.74,262.60 Z" fill="#111"/>
<line x1="88.54" y1="260.20" x2="88.54" y2="264.80" stroke="#222" stroke-width="1.6"/>
<line x1="113.31" y1="241.00" x2="113.31" y2="253.00" stroke="#1a1a1a" stroke-width="1.3"/>
<text x="105.11" y="260.10" font-size="5.0" font-weight="bold" text-anchor="middle" fill="#2a2418">0</text>
<text x="113.31" y="260.10" font-size="5.0" font-weight="bold" text-anchor="middle" fill="#2a2418">P</text>
<text x="122.91" y="260.10" font-size="5.0" font-weight="bold" text-anchor="middle" fill="#2a2418">1</text>
<line x1="104.81" y1="261.40" x2="121.81" y2="261.40" stroke="#666" stroke-width="0.8"/>
<path d="M103.71,261.40 L106.11,260.20 L106.11,262.60 Z" fill="#111"/>
<path d="M122.91,261.40 L120.51,260.20 L120.51,262.60 Z" fill="#111"/>
<line x1="113.31" y1="260.20" x2="113.31" y2="264.80" stroke="#222" stroke-width="1.6"/>
<line x1="138.08" y1="241.00" x2="138.08" y2="253.00" stroke="#1a1a1a" stroke-width="1.3"/>
<text x="129.88" y="260.10" font-size="5.0" font-weight="bold" text-anchor="middle" fill="#2a2418">0</text>
<text x="138.08" y="260.10" font-size="5.0" font-weight="bold" text-anchor="middle" fill="#2a2418">P</text>
<text x="147.68" y="260.10" font-size="5.0" font-weight="bold" text-anchor="middle" fill="#2a2418">1</text>
<line x1="129.58" y1="261.40" x2="146.58" y2="261.40" stroke="#666" stroke-width="0.8"/>
<path d="M128.48,261.40 L130.88,260.20 L130.88,262.60 Z" fill="#111"/>
<path d="M147.68,261.40 L145.28,260.20 L145.28,262.60 Z" fill="#111"/>
<line x1="138.08" y1="260.20" x2="138.08" y2="264.80" stroke="#222" stroke-width="1.6"/>
<line x1="162.85" y1="241.00" x2="162.85" y2="253.00" stroke="#1a1a1a" stroke-width="1.3"/>
<text x="154.65" y="260.10" font-size="5.0" font-weight="bold" text-anchor="middle" fill="#2a2418">0</text>
<text x="162.85" y="260.10" font-size="5.0" font-weight="bold" text-anchor="middle" fill="#2a2418">P</text>
<text x="172.45" y="260.10" font-size="5.0" font-weight="bold" text-anchor="middle" fill="#2a2418">1</text>
<line x1="154.35" y1="261.40" x2="171.35" y2="261.40" stroke="#666" stroke-width="0.8"/>
<path d="M153.25,261.40 L155.65,260.20 L155.65,262.60 Z" fill="#111"/>
<path d="M172.45,261.40 L170.05,260.20 L170.05,262.60 Z" fill="#111"/>
<line x1="162.85" y1="260.20" x2="162.85" y2="264.80" stroke="#222" stroke-width="1.6"/>
<line x1="187.62" y1="241.00" x2="187.62" y2="253.00" stroke="#1a1a1a" stroke-width="1.3"/>
<text x="179.42" y="260.10" font-size="5.0" font-weight="bold" text-anchor="middle" fill="#2a2418">0</text>
<text x="187.62" y="260.10" font-size="5.0" font-weight="bold" text-anchor="middle" fill="#2a2418">P</text>
<text x="197.22" y="260.10" font-size="5.0" font-weight="bold" text-anchor="middle" fill="#2a2418">1</text>
<line x1="179.12" y1="261.40" x2="196.12" y2="261.40" stroke="#666" stroke-width="0.8"/>
<path d="M178.02,261.40 L180.42,260.20 L180.42,262.60 Z" fill="#111"/>
<path d="M197.22,261.40 L194.82,260.20 L194.82,262.60 Z" fill="#111"/>
<line x1="187.62" y1="260.20" x2="187.62" y2="264.80" stroke="#222" stroke-width="1.6"/>
<line x1="212.39" y1="241.00" x2="212.39" y2="253.00" stroke="#1a1a1a" stroke-width="1.3"/>
<text x="204.19" y="260.10" font-size="5.0" font-weight="bold" text-anchor="middle" fill="#2a2418">0</text>
<text x="212.39" y="260.10" font-size="5.0" font-weight="bold" text-anchor="middle" fill="#2a2418">P</text>
<text x="221.99" y="260.10" font-size="5.0" font-weight="bold" text-anchor="middle" fill="#2a2418">1</text>
<line x1="203.89" y1="261.40" x2="220.89" y2="261.40" stroke="#666" stroke-width="0.8"/>
<path d="M202.79,261.40 L205.19,260.20 L205.19,262.60 Z" fill="#111"/>
<path d="M221.99,261.40 L219.59,260.20 L219.59,262.60 Z" fill="#111"/>
<line x1="212.39" y1="260.20" x2="212.39" y2="264.80" stroke="#222" stroke-width="1.6"/>
<line x1="237.16" y1="241.00" x2="237.16" y2="253.00" stroke="#1a1a1a" stroke-width="1.3"/>
<text x="228.96" y="260.10" font-size="5.0" font-weight="bold" text-anchor="middle" fill="#2a2418">0</text>
<text x="237.16" y="260.10" font-size="5.0" font-weight="bold" text-anchor="middle" fill="#2a2418">P</text>
<text x="246.76" y="260.10" font-size="5.0" font-weight="bold" text-anchor="middle" fill="#2a2418">1</text>
<line x1="228.66" y1="261.40" x2="245.66" y2="261.40" stroke="#666" stroke-width="0.8"/>
<path d="M227.56,261.40 L229.96,260.20 L229.96,262.60 Z" fill="#111"/>
<path d="M246.76,261.40 L244.36,260.20 L244.36,262.60 Z" fill="#111"/>
<line x1="237.16" y1="260.20" x2="237.16" y2="264.80" stroke="#222" stroke-width="1.6"/>
<line x1="261.93" y1="241.00" x2="261.93" y2="253.00" stroke="#1a1a1a" stroke-width="1.3"/>
<text x="253.73" y="260.10" font-size="5.0" font-weight="bold" text-anchor="middle" fill="#2a2418">0</text>
<text x="261.93" y="260.10" font-size="5.0" font-weight="bold" text-anchor="middle" fill="#2a2418">P</text>
<text x="271.53" y="260.10" font-size="5.0" font-weight="bold" text-anchor="middle" fill="#2a2418">1</text>
<line x1="253.43" y1="261.40" x2="270.43" y2="261.40" stroke="#666" stroke-width="0.8"/>
<path d="M252.33,261.40 L254.73,260.20 L254.73,262.60 Z" fill="#111"/>
<path d="M271.53,261.40 L269.13,260.20 L269.13,262.60 Z" fill="#111"/>
<line x1="261.93" y1="260.20" x2="261.93" y2="264.80" stroke="#222" stroke-width="1.6"/>
<line x1="286.70" y1="241.00" x2="286.70" y2="253.00" stroke="#1a1a1a" stroke-width="1.3"/>
<text x="278.50" y="260.10" font-size="5.0" font-weight="bold" text-anchor="middle" fill="#2a2418">0</text>
<text x="286.70" y="260.10" font-size="5.0" font-weight="bold" text-anchor="middle" fill="#2a2418">P</text>
<text x="296.30" y="260.10" font-size="5.0" font-weight="bold" text-anchor="middle" fill="#2a2418">1</text>
<line x1="278.20" y1="261.40" x2="295.20" y2="261.40" stroke="#666" stroke-width="0.8"/>
<path d="M277.10,261.40 L279.50,260.20 L279.50,262.60 Z" fill="#111"/>
<path d="M296.30,261.40 L293.90,260.20 L293.90,262.60 Z" fill="#111"/>
<line x1="286.70" y1="260.20" x2="286.70" y2="264.80" stroke="#222" stroke-width="1.6"/>
<line x1="311.47" y1="241.00" x2="311.47" y2="253.00" stroke="#1a1a1a" stroke-width="1.3"/>
<text x="303.27" y="260.10" font-size="5.0" font-weight="bold" text-anchor="middle" fill="#2a2418">0</text>
<text x="311.47" y="260.10" font-size="5.0" font-weight="bold" text-anchor="middle" fill="#2a2418">P</text>
<text x="321.07" y="260.10" font-size="5.0" font-weight="bold" text-anchor="middle" fill="#2a2418">1</text>
<line x1="302.97" y1="261.40" x2="319.97" y2="261.40" stroke="#666" stroke-width="0.8"/>
<path d="M301.87,261.40 L304.27,260.20 L304.27,262.60 Z" fill="#111"/>
<path d="M321.07,261.40 L318.67,260.20 L318.67,262.60 Z" fill="#111"/>
<line x1="311.47" y1="260.20" x2="311.47" y2="264.80" stroke="#222" stroke-width="1.6"/>
<line x1="336.24" y1="241.00" x2="336.24" y2="253.00" stroke="#1a1a1a" stroke-width="1.3"/>
<text x="328.04" y="260.10" font-size="5.0" font-weight="bold" text-anchor="middle" fill="#2a2418">0</text>
<text x="336.24" y="260.10" font-size="5.0" font-weight="bold" text-anchor="middle" fill="#2a2418">P</text>
<text x="345.84" y="260.10" font-size="5.0" font-weight="bold" text-anchor="middle" fill="#2a2418">1</text>
<line x1="327.74" y1="261.40" x2="344.74" y2="261.40" stroke="#666" stroke-width="0.8"/>
<path d="M326.64,261.40 L329.04,260.20 L329.04,262.60 Z" fill="#111"/>
<path d="M345.84,261.40 L343.44,260.20 L343.44,262.60 Z" fill="#111"/>
<line x1="336.24" y1="260.20" x2="336.24" y2="264.80" stroke="#222" stroke-width="1.6"/>
<line x1="361.01" y1="241.00" x2="361.01" y2="253.00" stroke="#1a1a1a" stroke-width="1.3"/>
<text x="352.81" y="260.10" font-size="5.0" font-weight="bold" text-anchor="middle" fill="#2a2418">0</text>
<text x="361.01" y="260.10" font-size="5.0" font-weight="bold" text-anchor="middle" fill="#2a2418">P</text>
<text x="370.61" y="260.10" font-size="5.0" font-weight="bold" text-anchor="middle" fill="#2a2418">1</text>
<line x1="352.51" y1="261.40" x2="369.51" y2="261.40" stroke="#666" stroke-width="0.8"/>
<path d="M351.41,261.40 L353.81,260.20 L353.81,262.60 Z" fill="#111"/>
<path d="M370.61,261.40 L368.21,260.20 L368.21,262.60 Z" fill="#111"/>
<line x1="361.01" y1="260.20" x2="361.01" y2="264.80" stroke="#222" stroke-width="1.6"/>
<path d="M26.5,264.4 L373.5,264.4" stroke="#c4c4c4" stroke-width="1" fill="none"/>
<path d="M26.5,264.4 L26.5,194.5 L373.5,194.5 L373.5,264.4" stroke="#8a8a8a" stroke-width="1" fill="none"/>
<text x="396.30" y="200.40" font-size="8.6" font-weight="bold" text-anchor="end" fill="#000">1.00</text>
<text x="396.30" y="222.80" font-size="8.6" font-weight="bold" text-anchor="end" fill="#000">0.50</text>
<text x="396.30" y="246.10" font-size="8.6" font-weight="bold" text-anchor="end" fill="#000">0.00</text>
<text x="396.30" y="266.00" font-size="8.6" font-weight="bold" text-anchor="end" fill="#000">-0.50</text>
<text x="40.80" y="269.10" font-size="4.65" text-anchor="end" fill="#111" transform="rotate(-29.5 40.80 269.10)" stroke="#111" stroke-width="0.14">ISS-Mean Intensity</text>
<text x="65.57" y="269.10" font-size="4.65" text-anchor="end" fill="#111" transform="rotate(-29.5 65.57 269.10)" stroke="#111" stroke-width="0.14">ISS-Intensity Variance</text>
<text x="90.34" y="269.10" font-size="4.65" text-anchor="end" fill="#111" transform="rotate(-29.5 90.34 269.10)" stroke="#111" stroke-width="0.14">ISS-Intensity Skewness</text>
<text x="115.11" y="269.10" font-size="4.65" text-anchor="end" fill="#111" transform="rotate(-29.5 115.11 269.10)" stroke="#111" stroke-width="0.14">ISS-Intensity kurtosis</text>
<text x="139.88" y="269.10" font-size="4.65" text-anchor="end" fill="#111" transform="rotate(-29.5 139.88 269.10)" stroke="#111" stroke-width="0.14">GLCM-Dissimilarity</text>
<text x="164.65" y="269.10" font-size="4.65" text-anchor="end" fill="#111" transform="rotate(-29.5 164.65 269.10)" stroke="#111" stroke-width="0.14">GLCM-Autocorrelation</text>
<text x="189.42" y="269.10" font-size="4.65" text-anchor="end" fill="#111" transform="rotate(-29.5 189.42 269.10)" stroke="#111" stroke-width="0.14">GLDZM-Small Distance Low Grey Level Emphasis</text>
<text x="214.19" y="269.10" font-size="4.65" text-anchor="end" fill="#111" transform="rotate(-29.5 214.19 269.10)" stroke="#111" stroke-width="0.14">GLDZM-Small Distance High Grey Level Emphasis</text>
<text x="238.96" y="269.10" font-size="4.65" text-anchor="end" fill="#111" transform="rotate(-29.5 238.96 269.10)" stroke="#111" stroke-width="0.14">GLDZM-Large Distance High Grey Level Emphasis</text>
<text x="263.73" y="269.10" font-size="4.65" text-anchor="end" fill="#111" transform="rotate(-29.5 263.73 269.10)" stroke="#111" stroke-width="0.14">NGLDM-High Grey Level Count Emphasis</text>
<text x="288.50" y="269.10" font-size="4.65" text-anchor="end" fill="#111" transform="rotate(-29.5 288.50 269.10)" stroke="#111" stroke-width="0.14">NGLDM-Low Dependence Low Grey Level Emphasis</text>
<text x="313.27" y="269.10" font-size="4.65" text-anchor="end" fill="#111" transform="rotate(-29.5 313.27 269.10)" stroke="#111" stroke-width="0.14">NGLDM-Low Dependence High Grey Level Emphasis</text>
<text x="338.04" y="269.10" font-size="4.65" text-anchor="end" fill="#111" transform="rotate(-29.5 338.04 269.10)" stroke="#111" stroke-width="0.14">NGLDM-High Dependence Low Grey Level Emphasis</text>
<text x="362.81" y="269.10" font-size="4.65" text-anchor="end" fill="#111" transform="rotate(-29.5 362.81 269.10)" stroke="#111" stroke-width="0.14">(2<tspan font-size="3" dy="-1.6">nd</tspan><tspan dy="1.6"> Echo)-Raw DCE MR Information</tspan></text>
<text x="407.40" y="21.60" font-size="18.8" font-weight="bold" text-anchor="start" fill="#000">C</text>
<text x="440.80" y="17.40" font-size="9.15" font-weight="bold" fill="#000" textLength="222.80" lengthAdjust="spacingAndGlyphs">Hypothesis Testing Results (Levene's and Welch's)</text>
<text x="438.20" y="27.40" font-size="9.15" font-weight="bold" fill="#000" textLength="236.50" lengthAdjust="spacingAndGlyphs">and their Corresponding Percent Differences Between</text>
<text x="438.20" y="37.90" font-size="9.15" font-weight="bold" fill="#000" textLength="236.50" lengthAdjust="spacingAndGlyphs">Avg. Silhouette Coefficients of the K-SOMs&#160; Generated</text>
<text x="438.20" y="48.90" font-size="9.15" font-weight="bold" fill="#000" textLength="238.80" lengthAdjust="spacingAndGlyphs">by the 1<tspan font-size="7.4" dy="-2.4" letter-spacing="0.5">st</tspan><tspan dy="2.4"> Echo Versus its Differnt Radiomics Features</tspan></text>
<text x="421.00" y="161.10" font-size="8.8" font-weight="bold" text-anchor="start" fill="#000" transform="rotate(-90 421.00 161.10)" textLength="114.20" lengthAdjust="spacingAndGlyphs">Percent Difference Between</text>
<text x="430.20" y="161.10" font-size="8.8" font-weight="bold" text-anchor="start" fill="#000" transform="rotate(-90 430.20 161.10)" textLength="130.00" lengthAdjust="spacingAndGlyphs">Avg. Silhouette Coefficients&#160; [%]</text>
<rect x="453.5" y="56.3" width="216.0" height="71.89999999999999" fill="#fff"/>
<line x1="453.5" y1="125.84" x2="669.5" y2="125.84" stroke="#f4f4f4" stroke-width="0.8"/>
<line x1="453.5" y1="123.47" x2="669.5" y2="123.47" stroke="#f4f4f4" stroke-width="0.8"/>
<line x1="453.5" y1="121.11" x2="669.5" y2="121.11" stroke="#f4f4f4" stroke-width="0.8"/>
<line x1="453.5" y1="118.74" x2="669.5" y2="118.74" stroke="#f4f4f4" stroke-width="0.8"/>
<line x1="453.5" y1="116.38" x2="669.5" y2="116.38" stroke="#e9e9e9" stroke-width="0.8"/>
<line x1="453.5" y1="114.02" x2="669.5" y2="114.02" stroke="#f4f4f4" stroke-width="0.8"/>
<line x1="453.5" y1="111.65" x2="669.5" y2="111.65" stroke="#f4f4f4" stroke-width="0.8"/>
<line x1="453.5" y1="109.29" x2="669.5" y2="109.29" stroke="#f4f4f4" stroke-width="0.8"/>
<line x1="453.5" y1="106.92" x2="669.5" y2="106.92" stroke="#f4f4f4" stroke-width="0.8"/>
<line x1="453.5" y1="104.56" x2="669.5" y2="104.56" stroke="#e9e9e9" stroke-width="0.8"/>
<line x1="453.5" y1="102.20" x2="669.5" y2="102.20" stroke="#f4f4f4" stroke-width="0.8"/>
<line x1="453.5" y1="99.83" x2="669.5" y2="99.83" stroke="#f4f4f4" stroke-width="0.8"/>
<line x1="453.5" y1="97.47" x2="669.5" y2="97.47" stroke="#f4f4f4" stroke-width="0.8"/>
<line x1="453.5" y1="95.10" x2="669.5" y2="95.10" stroke="#f4f4f4" stroke-width="0.8"/>
<line x1="453.5" y1="92.74" x2="669.5" y2="92.74" stroke="#e9e9e9" stroke-width="0.8"/>
<line x1="453.5" y1="90.38" x2="669.5" y2="90.38" stroke="#f4f4f4" stroke-width="0.8"/>
<line x1="453.5" y1="88.01" x2="669.5" y2="88.01" stroke="#f4f4f4" stroke-width="0.8"/>
<line x1="453.5" y1="85.65" x2="669.5" y2="85.65" stroke="#f4f4f4" stroke-width="0.8"/>
<line x1="453.5" y1="83.28" x2="669.5" y2="83.28" stroke="#f4f4f4" stroke-width="0.8"/>
<line x1="453.5" y1="80.92" x2="669.5" y2="80.92" stroke="#e9e9e9" stroke-width="0.8"/>
<line x1="453.5" y1="78.56" x2="669.5" y2="78.56" stroke="#f4f4f4" stroke-width="0.8"/>
<line x1="453.5" y1="76.19" x2="669.5" y2="76.19" stroke="#f4f4f4" stroke-width="0.8"/>
<line x1="453.5" y1="73.83" x2="669.5" y2="73.83" stroke="#f4f4f4" stroke-width="0.8"/>
<line x1="453.5" y1="71.46" x2="669.5" y2="71.46" stroke="#f4f4f4" stroke-width="0.8"/>
<line x1="453.5" y1="69.10" x2="669.5" y2="69.10" stroke="#e9e9e9" stroke-width="0.8"/>
<line x1="453.5" y1="66.74" x2="669.5" y2="66.74" stroke="#f4f4f4" stroke-width="0.8"/>
<line x1="453.5" y1="64.37" x2="669.5" y2="64.37" stroke="#f4f4f4" stroke-width="0.8"/>
<line x1="453.5" y1="62.01" x2="669.5" y2="62.01" stroke="#f4f4f4" stroke-width="0.8"/>
<line x1="453.5" y1="59.64" x2="669.5" y2="59.64" stroke="#f4f4f4" stroke-width="0.8"/>
<line x1="453.5" y1="57.28" x2="669.5" y2="57.28" stroke="#e9e9e9" stroke-width="0.8"/>
<line x1="480.50" y1="56.3" x2="480.50" y2="128.2" stroke="#e2e2e2" stroke-width="0.8"/>
<line x1="534.45" y1="56.3" x2="534.45" y2="128.2" stroke="#e2e2e2" stroke-width="0.8"/>
<line x1="588.65" y1="56.3" x2="588.65" y2="128.2" stroke="#e2e2e2" stroke-width="0.8"/>
<line x1="642.10" y1="56.3" x2="642.10" y2="128.2" stroke="#e2e2e2" stroke-width="0.8"/>
<rect x="459.10" y="88.10" width="42.80" height="40.10" fill="#ed1c24"/>
<rect x="513.10" y="69.10" width="42.70" height="59.10" fill="#ed1c24"/>
<rect x="567.20" y="114.40" width="42.90" height="13.80" fill="#ed1c24"/>
<rect x="620.70" y="114.00" width="42.80" height="14.20" fill="#ed1c24"/>
<line x1="453.5" y1="128.20" x2="455.0" y2="128.20" stroke="#999" stroke-width="0.6"/>
<line x1="668.0" y1="128.20" x2="669.5" y2="128.20" stroke="#999" stroke-width="0.6"/>
<line x1="453.5" y1="116.38" x2="455.0" y2="116.38" stroke="#999" stroke-width="0.6"/>
<line x1="668.0" y1="116.38" x2="669.5" y2="116.38" stroke="#999" stroke-width="0.6"/>
<line x1="453.5" y1="104.56" x2="455.0" y2="104.56" stroke="#999" stroke-width="0.6"/>
<line x1="668.0" y1="104.56" x2="669.5" y2="104.56" stroke="#999" stroke-width="0.6"/>
<line x1="453.5" y1="92.74" x2="455.0" y2="92.74" stroke="#999" stroke-width="0.6"/>
<line x1="668.0" y1="92.74" x2="669.5" y2="92.74" stroke="#999" stroke-width="0.6"/>
<line x1="453.5" y1="80.92" x2="455.0" y2="80.92" stroke="#999" stroke-width="0.6"/>
<line x1="668.0" y1="80.92" x2="669.5" y2="80.92" stroke="#999" stroke-width="0.6"/>
<line x1="453.5" y1="69.10" x2="455.0" y2="69.10" stroke="#999" stroke-width="0.6"/>
<line x1="668.0" y1="69.10" x2="669.5" y2="69.10" stroke="#999" stroke-width="0.6"/>
<line x1="480.50" y1="128.2" x2="480.50" y2="126.69999999999999" stroke="#555" stroke-width="0.6"/>
<line x1="534.45" y1="128.2" x2="534.45" y2="126.69999999999999" stroke="#555" stroke-width="0.6"/>
<line x1="588.65" y1="128.2" x2="588.65" y2="126.69999999999999" stroke="#555" stroke-width="0.6"/>
<line x1="642.10" y1="128.2" x2="642.10" y2="126.69999999999999" stroke="#555" stroke-width="0.6"/>
<rect x="453.5" y="56.3" width="216.0" height="71.89999999999999" fill="none" stroke="#333" stroke-width="1"/>
<text x="450.00" y="130.70" font-size="9.5" font-weight="bold" text-anchor="end" fill="#000">0</text>
<text x="450.00" y="118.70" font-size="9.5" font-weight="bold" text-anchor="end" fill="#000">10</text>
<text x="450.00" y="106.70" font-size="9.5" font-weight="bold" text-anchor="end" fill="#000">20</text>
<text x="450.00" y="94.70" font-size="9.5" font-weight="bold" text-anchor="end" fill="#000">30</text>
<text x="450.00" y="83.10" font-size="9.5" font-weight="bold" text-anchor="end" fill="#000">40</text>
<text x="450.00" y="71.50" font-size="9.5" font-weight="bold" text-anchor="end" fill="#000">50</text>
<text x="459.80" y="86.50" font-size="5.4" font-weight="bold" text-anchor="start" fill="#111" textLength="42.20" lengthAdjust="spacingAndGlyphs">p-value=0.000003</text>
<text x="515.70" y="67.70" font-size="5.4" font-weight="bold" text-anchor="start" fill="#111" textLength="36.40" lengthAdjust="spacingAndGlyphs">p-value&lt;10E-06</text>
<text x="568.00" y="112.80" font-size="5.4" font-weight="bold" text-anchor="start" fill="#111" textLength="41.80" lengthAdjust="spacingAndGlyphs">p-value=0.048512</text>
<text x="621.00" y="111.70" font-size="5.4" font-weight="bold" text-anchor="start" fill="#111" textLength="41.70" lengthAdjust="spacingAndGlyphs">p-value=0.037586</text>
<text x="442.80" y="157.40" font-size="4.7" text-anchor="start" fill="#111" transform="rotate(-30 442.80 157.40)" textLength="46.60" lengthAdjust="spacingAndGlyphs" stroke="#111" stroke-width="0.14">ISS-Intensity Variance</text>
<text x="499.70" y="153.00" font-size="4.7" text-anchor="start" fill="#111" transform="rotate(-30 499.70 153.00)" textLength="39.60" lengthAdjust="spacingAndGlyphs" stroke="#111" stroke-width="0.14">GLCM-Dissimilarity</text>
<text x="542.80" y="154.70" font-size="4.7" text-anchor="start" fill="#111" transform="rotate(-30 542.80 154.70)" textLength="48.40" lengthAdjust="spacingAndGlyphs" stroke="#111" stroke-width="0.14">GLDZM-Small Distance</text>
<text x="545.80" y="161.90" font-size="4.7" text-anchor="start" fill="#111" transform="rotate(-30 545.80 161.90)" textLength="55.40" lengthAdjust="spacingAndGlyphs" stroke="#111" stroke-width="0.14">High Grey Level Emphasis</text>
<text x="597.60" y="155.90" font-size="4.7" text-anchor="start" fill="#111" transform="rotate(-30 597.60 155.90)" textLength="49.70" lengthAdjust="spacingAndGlyphs" stroke="#111" stroke-width="0.14">GLDZM-Large Distance</text>
<text x="600.00" y="162.50" font-size="4.7" text-anchor="start" fill="#111" transform="rotate(-30 600.00 162.50)" textLength="56.10" lengthAdjust="spacingAndGlyphs" stroke="#111" stroke-width="0.14">High Grey Level Emphasis</text>
<text x="407.40" y="186.20" font-size="18.8" font-weight="bold" text-anchor="start" fill="#000">D</text>
<text x="442.90" y="180.30" font-size="9.15" font-weight="bold" fill="#000" textLength="222.80" lengthAdjust="spacingAndGlyphs">Hypothesis Testing Results (Levene's and Welch's)</text>
<text x="439.80" y="190.60" font-size="9.15" font-weight="bold" fill="#000" textLength="236.50" lengthAdjust="spacingAndGlyphs">and their Corresponding Percent Differences Between</text>
<text x="439.80" y="201.30" font-size="9.15" font-weight="bold" fill="#000" textLength="236.50" lengthAdjust="spacingAndGlyphs">Avg. Silhouette Coefficients of the K-SOMs&#160; Generated</text>
<text x="439.80" y="212.00" font-size="9.15" font-weight="bold" fill="#000" textLength="238.80" lengthAdjust="spacingAndGlyphs">by the 2<tspan font-size="7.6" dy="-2.8" letter-spacing="0.4">nd</tspan><tspan dy="2.8">&#8202;Echo Versus its Differnt Radiomics Features</tspan></text>
<text x="422.80" y="321.60" font-size="8.8" font-weight="bold" text-anchor="start" fill="#000" transform="rotate(-90 422.80 321.60)" textLength="114.20" lengthAdjust="spacingAndGlyphs">Percent Difference Between</text>
<text x="432.00" y="321.60" font-size="8.8" font-weight="bold" text-anchor="start" fill="#000" transform="rotate(-90 432.00 321.60)" textLength="130.00" lengthAdjust="spacingAndGlyphs">Avg. Silhouette Coefficients&#160; [%]</text>
<rect x="453.5" y="220.5" width="215.0" height="71.10000000000002" fill="#fff"/>
<line x1="453.5" y1="288.84" x2="668.5" y2="288.84" stroke="#f4f4f4" stroke-width="0.8"/>
<line x1="453.5" y1="286.08" x2="668.5" y2="286.08" stroke="#f4f4f4" stroke-width="0.8"/>
<line x1="453.5" y1="283.32" x2="668.5" y2="283.32" stroke="#f4f4f4" stroke-width="0.8"/>
<line x1="453.5" y1="280.56" x2="668.5" y2="280.56" stroke="#f4f4f4" stroke-width="0.8"/>
<line x1="453.5" y1="277.80" x2="668.5" y2="277.80" stroke="#e9e9e9" stroke-width="0.8"/>
<line x1="453.5" y1="275.04" x2="668.5" y2="275.04" stroke="#f4f4f4" stroke-width="0.8"/>
<line x1="453.5" y1="272.28" x2="668.5" y2="272.28" stroke="#f4f4f4" stroke-width="0.8"/>
<line x1="453.5" y1="269.52" x2="668.5" y2="269.52" stroke="#f4f4f4" stroke-width="0.8"/>
<line x1="453.5" y1="266.76" x2="668.5" y2="266.76" stroke="#f4f4f4" stroke-width="0.8"/>
<line x1="453.5" y1="264.00" x2="668.5" y2="264.00" stroke="#e9e9e9" stroke-width="0.8"/>
<line x1="453.5" y1="261.24" x2="668.5" y2="261.24" stroke="#f4f4f4" stroke-width="0.8"/>
<line x1="453.5" y1="258.48" x2="668.5" y2="258.48" stroke="#f4f4f4" stroke-width="0.8"/>
<line x1="453.5" y1="255.72" x2="668.5" y2="255.72" stroke="#f4f4f4" stroke-width="0.8"/>
<line x1="453.5" y1="252.96" x2="668.5" y2="252.96" stroke="#f4f4f4" stroke-width="0.8"/>
<line x1="453.5" y1="250.20" x2="668.5" y2="250.20" stroke="#e9e9e9" stroke-width="0.8"/>
<line x1="453.5" y1="247.44" x2="668.5" y2="247.44" stroke="#f4f4f4" stroke-width="0.8"/>
<line x1="453.5" y1="244.68" x2="668.5" y2="244.68" stroke="#f4f4f4" stroke-width="0.8"/>
<line x1="453.5" y1="241.92" x2="668.5" y2="241.92" stroke="#f4f4f4" stroke-width="0.8"/>
<line x1="453.5" y1="239.16" x2="668.5" y2="239.16" stroke="#f4f4f4" stroke-width="0.8"/>
<line x1="453.5" y1="236.40" x2="668.5" y2="236.40" stroke="#e9e9e9" stroke-width="0.8"/>
<line x1="453.5" y1="233.64" x2="668.5" y2="233.64" stroke="#f4f4f4" stroke-width="0.8"/>
<line x1="453.5" y1="230.88" x2="668.5" y2="230.88" stroke="#f4f4f4" stroke-width="0.8"/>
<line x1="453.5" y1="228.12" x2="668.5" y2="228.12" stroke="#f4f4f4" stroke-width="0.8"/>
<line x1="453.5" y1="225.36" x2="668.5" y2="225.36" stroke="#f4f4f4" stroke-width="0.8"/>
<line x1="453.5" y1="222.60" x2="668.5" y2="222.60" stroke="#e9e9e9" stroke-width="0.8"/>
<line x1="480.45" y1="220.5" x2="480.45" y2="291.6" stroke="#e2e2e2" stroke-width="0.8"/>
<line x1="534.35" y1="220.5" x2="534.35" y2="291.6" stroke="#e2e2e2" stroke-width="0.8"/>
<line x1="587.90" y1="220.5" x2="587.90" y2="291.6" stroke="#e2e2e2" stroke-width="0.8"/>
<line x1="642.00" y1="220.5" x2="642.00" y2="291.6" stroke="#e2e2e2" stroke-width="0.8"/>
<rect x="459.00" y="232.00" width="42.90" height="59.60" fill="#4048cc"/>
<rect x="513.10" y="258.20" width="42.50" height="33.40" fill="#4048cc"/>
<rect x="566.40" y="245.90" width="43.00" height="45.70" fill="#4048cc"/>
<rect x="620.50" y="251.00" width="43.00" height="40.60" fill="#4048cc"/>
<line x1="453.5" y1="291.60" x2="455.0" y2="291.60" stroke="#999" stroke-width="0.6"/>
<line x1="667.0" y1="291.60" x2="668.5" y2="291.60" stroke="#999" stroke-width="0.6"/>
<line x1="453.5" y1="277.80" x2="455.0" y2="277.80" stroke="#999" stroke-width="0.6"/>
<line x1="667.0" y1="277.80" x2="668.5" y2="277.80" stroke="#999" stroke-width="0.6"/>
<line x1="453.5" y1="264.00" x2="455.0" y2="264.00" stroke="#999" stroke-width="0.6"/>
<line x1="667.0" y1="264.00" x2="668.5" y2="264.00" stroke="#999" stroke-width="0.6"/>
<line x1="453.5" y1="250.20" x2="455.0" y2="250.20" stroke="#999" stroke-width="0.6"/>
<line x1="667.0" y1="250.20" x2="668.5" y2="250.20" stroke="#999" stroke-width="0.6"/>
<line x1="453.5" y1="236.40" x2="455.0" y2="236.40" stroke="#999" stroke-width="0.6"/>
<line x1="667.0" y1="236.40" x2="668.5" y2="236.40" stroke="#999" stroke-width="0.6"/>
<line x1="480.45" y1="291.6" x2="480.45" y2="290.1" stroke="#555" stroke-width="0.6"/>
<line x1="534.35" y1="291.6" x2="534.35" y2="290.1" stroke="#555" stroke-width="0.6"/>
<line x1="587.90" y1="291.6" x2="587.90" y2="290.1" stroke="#555" stroke-width="0.6"/>
<line x1="642.00" y1="291.6" x2="642.00" y2="290.1" stroke="#555" stroke-width="0.6"/>
<rect x="453.5" y="220.5" width="215.0" height="71.10000000000002" fill="none" stroke="#333" stroke-width="1"/>
<text x="450.00" y="295.70" font-size="9.5" font-weight="bold" text-anchor="end" fill="#000">0</text>
<text x="450.00" y="280.80" font-size="9.5" font-weight="bold" text-anchor="end" fill="#000">10</text>
<text x="450.00" y="266.70" font-size="9.5" font-weight="bold" text-anchor="end" fill="#000">20</text>
<text x="450.00" y="252.70" font-size="9.5" font-weight="bold" text-anchor="end" fill="#000">30</text>
<text x="450.00" y="238.60" font-size="9.5" font-weight="bold" text-anchor="end" fill="#000">40</text>
<text x="462.20" y="229.20" font-size="5.4" font-weight="bold" text-anchor="start" fill="#111" textLength="36.90" lengthAdjust="spacingAndGlyphs">p-value&lt;10E-06</text>
<text x="513.10" y="255.60" font-size="5.4" font-weight="bold" text-anchor="start" fill="#111" textLength="42.20" lengthAdjust="spacingAndGlyphs">p-value=0.000672</text>
<text x="567.20" y="242.90" font-size="5.4" font-weight="bold" text-anchor="start" fill="#111" textLength="41.80" lengthAdjust="spacingAndGlyphs">p-value=0.000004</text>
<text x="621.00" y="248.10" font-size="5.4" font-weight="bold" text-anchor="start" fill="#111" textLength="41.70" lengthAdjust="spacingAndGlyphs">p-value=0.000084</text>
<text x="449.00" y="316.90" font-size="4.7" text-anchor="start" fill="#111" transform="rotate(-30 449.00 316.90)" textLength="39.80" lengthAdjust="spacingAndGlyphs" stroke="#111" stroke-width="0.14">GLCM-Dissimilarity</text>
<text x="494.00" y="321.00" font-size="4.7" text-anchor="start" fill="#111" transform="rotate(-30 494.00 321.00)" textLength="47.70" lengthAdjust="spacingAndGlyphs" stroke="#111" stroke-width="0.14">GLCM-Autocorrelation</text>
<text x="543.10" y="320.30" font-size="4.7" text-anchor="start" fill="#111" transform="rotate(-30 543.10 320.30)" textLength="49.90" lengthAdjust="spacingAndGlyphs" stroke="#111" stroke-width="0.14">GLDZM-Large Distance</text>
<text x="545.20" y="326.60" font-size="4.7" text-anchor="start" fill="#111" transform="rotate(-30 545.20 326.60)" textLength="56.50" lengthAdjust="spacingAndGlyphs" stroke="#111" stroke-width="0.14">High Grey Level Emphasis</text>
<text x="593.20" y="320.30" font-size="4.7" text-anchor="start" fill="#111" transform="rotate(-30 593.20 320.30)" textLength="55.50" lengthAdjust="spacingAndGlyphs" stroke="#111" stroke-width="0.14">NGLDM-Low Dependence</text>
<text x="597.40" y="326.60" font-size="4.7" text-anchor="start" fill="#111" transform="rotate(-30 597.40 326.60)" textLength="56.30" lengthAdjust="spacingAndGlyphs" stroke="#111" stroke-width="0.14">High Grey Level Emphasis</text>
<line x1="402" y1="2" x2="402" y2="331" stroke="#000" stroke-width="2"/>
<line x1="2" y1="166" x2="683" y2="166" stroke="#000" stroke-width="2"/>
<rect x="2" y="2" width="681" height="329" fill="none" stroke="#000" stroke-width="2"/>
</svg>
</body></html>
